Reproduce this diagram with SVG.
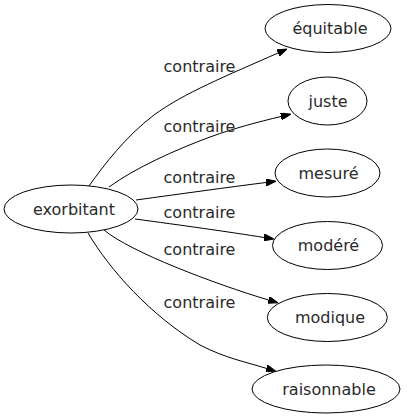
<svg xmlns="http://www.w3.org/2000/svg" width="407" height="419" viewBox="0 0 407 419">
<style>
.node ellipse{fill:#ffffff;stroke:#000000;stroke-width:1}
.edge path{fill:none;stroke:#000000;stroke-width:1}
text{font-family:"DejaVu Sans","Liberation Sans",sans-serif;font-size:16px;fill:#2a2a2a;text-anchor:middle}
</style>
<defs>
<marker id="arrow" markerUnits="userSpaceOnUse" markerWidth="10" markerHeight="7" refX="0" refY="3.5" orient="auto" viewBox="0 0 10 7">
<path d="M0,0 L10,3.5 L0,7 Z" fill="#000000" stroke="#000000" stroke-width="1"/>
</marker>
</defs>
<rect width="407" height="419" fill="#ffffff"/>
<g id="edges" class="edge">
<path d="M89,186 C104,165 126,136 154,115 C184,93 226,76 278,53" marker-end="url(#arrow)"/>
<path d="M109,187 C135,168 175,150 210,137 C235,128 258,122 281,116.5" marker-end="url(#arrow)"/>
<path d="M136,200 C180,194 230,187 266,182.5" marker-end="url(#arrow)"/>
<path d="M135,219 C180,225 230,232 264,237.5" marker-end="url(#arrow)"/>
<path d="M104,230 C130,252 215,284 268.5,300" marker-end="url(#arrow)"/>
<path d="M88,233 C110,270 150,315 200,345 C225,358 246,362 266.5,368.4" marker-end="url(#arrow)"/>
<text x="199.5" y="72">contraire</text>
<text x="199.5" y="132">contraire</text>
<text x="199.5" y="183">contraire</text>
<text x="199.5" y="218">contraire</text>
<text x="199.5" y="255">contraire</text>
<text x="199.5" y="308">contraire</text>
</g>
<g id="exorbitant" class="node"><ellipse cx="71" cy="209" rx="67" ry="24"/><text x="74" y="215">exorbitant</text></g>
<g id="equitable" class="node"><ellipse cx="328" cy="28.5" rx="63" ry="24"/><text x="330" y="34">équitable</text></g>
<g id="juste" class="node"><ellipse cx="327.5" cy="101" rx="39.5" ry="24"/><text x="328" y="106.5">juste</text></g>
<g id="mesure" class="node"><ellipse cx="327.5" cy="173" rx="52.5" ry="24"/><text x="328.5" y="178.5">mesuré</text></g>
<g id="modere" class="node"><ellipse cx="327.5" cy="245.5" rx="55" ry="24"/><text x="328.5" y="251">modéré</text></g>
<g id="modique" class="node"><ellipse cx="327.3" cy="317.5" rx="60" ry="24"/><text x="330" y="323">modique</text></g>
<g id="raisonnable" class="node"><ellipse cx="326" cy="389" rx="74" ry="24"/><text x="329" y="394.5">raisonnable</text></g>
</svg>
